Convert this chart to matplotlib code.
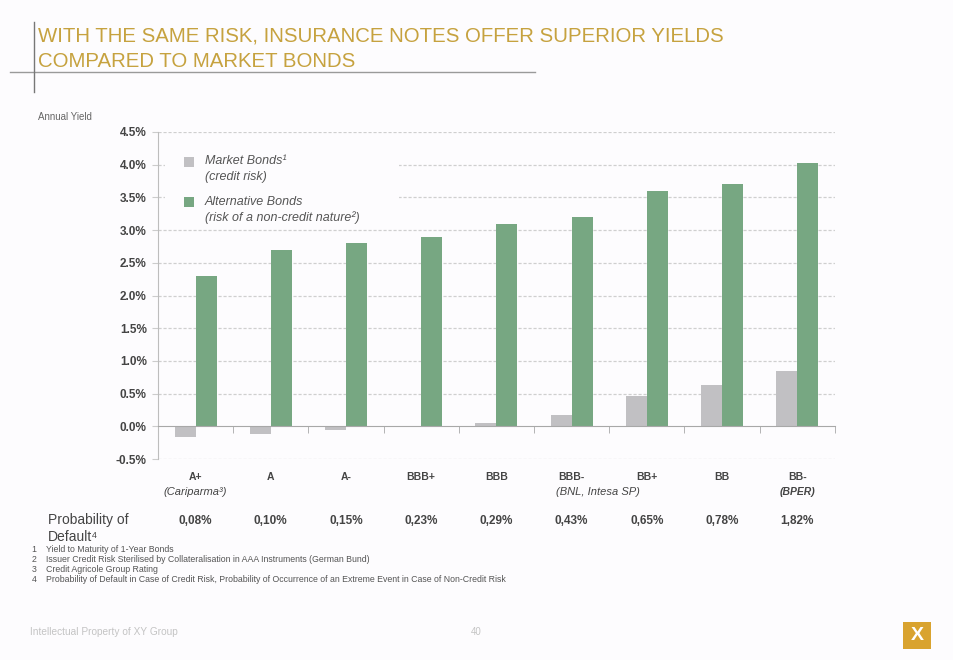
import matplotlib.pyplot as plt
from matplotlib.patches import Rectangle
from matplotlib.ticker import FuncFormatter
import numpy as np

plt.rcParams['font.family'] = ['Liberation Sans', 'DejaVu Sans']

# datos
ratings = ['A+', 'A', 'A-', 'BBB+', 'BBB', 'BBB-', 'BB+', 'BB', 'BB-']
market = [-0.17, -0.11, -0.05, 0.0, 0.05, 0.18, 0.46, 0.63, 0.84]
alternative = [2.3, 2.7, 2.8, 2.9, 3.1, 3.2, 3.6, 3.7, 4.03]
prob_default = ['0,08%', '0,10%', '0,15%', '0,23%', '0,29%', '0,43%', '0,65%', '0,78%', '1,82%']
yticks = [-0.5, 0.0, 0.5, 1.0, 1.5, 2.0, 2.5, 3.0, 3.5, 4.0, 4.5]
series_names = ['Market Bonds\u00b9\n(credit risk)',
                'Alternative Bonds\n(risk of a non-credit nature\u00b2)']
footnotes = ['Yield to Maturity of 1-Year Bonds',
             'Issuer Credit Risk Sterilised by Collateralisation in AAA Instruments (German Bund)',
             'Credit Agricole Group Rating',
             'Probability of Default in Case of Credit Risk, Probability of Occurrence of an Extreme Event in Case of Non-Credit Risk']

gold = '#C6A23F'
green = '#77A782'
grey_bar = '#C1C0C3'
txt = '#444444'
bg = '#FDFCFE'

fig = plt.figure(figsize=(9.54, 6.6), dpi=100, facecolor=bg)
ax = fig.add_axes([0.1656, 0.3045, 0.7094, 0.4955])
ax.set_facecolor(bg)

x = np.arange(len(ratings))
w = 0.28
ax.bar(x - w / 2, market, w, color=grey_bar, zorder=3)
ax.bar(x + w / 2, alternative, w, color=green, zorder=3)

ax.set_xlim(-0.5, len(ratings) - 0.5)
ax.set_ylim(-0.5, 4.5)
ax.set_yticks(yticks)
ax.yaxis.set_major_formatter(FuncFormatter(lambda v, p: '%.1f%%' % v))
ax.tick_params(axis='y', length=4, color='#cccccc', labelsize=8.5, labelcolor=txt, pad=4)
for t in ax.get_yticklabels():
    t.set_fontweight('bold')

# rejilla discontinua
for v in yticks:
    if v != 0:
        ax.axhline(v, color='#cfcfcf', lw=0.9, ls=(0, (2.5, 1.5)), zorder=1)

for s in ['top', 'right']:
    ax.spines[s].set_visible(False)
ax.spines['left'].set_color('#bdbdbd')
ax.spines['bottom'].set_position(('data', 0))
ax.spines['bottom'].set_color('#a8a8a8')
ax.spines['bottom'].set_zorder(4)
ax.set_xticks([])
ax.set_xticks(np.arange(len(ratings)) + 0.5, minor=True)
ax.tick_params(axis='x', which='minor', length=5, color='#a8a8a8', labelbottom=False)

# etiquetas de categorias
tr = ax.get_xaxis_transform()
for i, r in enumerate(ratings):
    ax.text(i, -0.055, r, transform=tr, ha='center', va='center', fontsize=7.5,
            fontweight='bold', color=txt)
    ax.text(i, -0.19, prob_default[i], transform=tr, ha='center', va='center', fontsize=8.5,
            fontweight='bold', color=txt)
ax.text(0, -0.1, '(Cariparma\u00b3)', transform=tr, ha='center', va='center', fontsize=8,
        style='italic', color=txt)
ax.text(5.35, -0.1, '(BNL, Intesa SP)', transform=tr, ha='center', va='center', fontsize=8,
        style='italic', color=txt)
ax.text(8, -0.1, '(BPER)', transform=tr, ha='center', va='center', fontsize=7.5,
        style='italic', fontweight='bold', color=txt)

# leyenda hecha a mano (cuadro arriba alineado con la primera linea)
ftr = fig.transFigure
ax.add_patch(Rectangle((0.173, 0.664), 0.245, 0.118, transform=ftr, facecolor=bg,
                       edgecolor='none', zorder=2))
for k, (name, col) in enumerate(zip(series_names, [grey_bar, green])):
    ytop = 0.755 - k * 0.061
    ax.add_patch(Rectangle((0.193, ytop - 0.0075), 0.0105, 0.0152, transform=ftr,
                           facecolor=col, edgecolor='none', zorder=3, clip_on=False))
    ax.text(0.215, ytop + 0.0095, name, transform=ftr, ha='left', va='top', fontsize=9,
            style='italic', color='#555555', linespacing=1.35, zorder=3)

# titulo y lineas
fig.text(0.040, 0.960, 'WITH THE SAME RISK, INSURANCE NOTES OFFER SUPERIOR YIELDS\nCOMPARED TO MARKET BONDS',
         ha='left', va='top', fontsize=14.7, color=gold, linespacing=1.42)
fig.add_artist(plt.Line2D([0.010, 0.561], [0.891, 0.891], color='#9a9a9a', lw=1))
fig.add_artist(plt.Line2D([0.0356, 0.0356], [0.967, 0.861], color='#777777', lw=1))

fig.text(0.040, 0.823, 'Annual Yield', ha='left', va='center', fontsize=7, color='#666666')

fig.text(0.050, 0.199, 'Probability of\nDefault\u2074', ha='left', va='center', fontsize=10,
         color=txt, linespacing=1.3)

for i, f in enumerate(footnotes):
    yy = 0.167 - i * 0.0152
    fig.text(0.033, yy, str(i + 1), ha='left', va='center', fontsize=6.3, color='#555555')
    fig.text(0.048, yy, f, ha='left', va='center', fontsize=6.3, color='#555555')

fig.text(0.031, 0.042, 'Intellectual Property of XY Group', ha='left', va='center', fontsize=7.3,
         color='#c4c4c4')
fig.text(0.493, 0.042, '40', ha='left', va='center', fontsize=7, color='#c4c4c4')

# logo
fig.add_artist(Rectangle((0.947, 0.017), 0.029, 0.040, transform=fig.transFigure,
                         facecolor='#D9A32F', edgecolor='none'))
fig.text(0.9615, 0.037, 'X', ha='center', va='center', fontsize=14, fontweight='bold', color='white')

fig.savefig('out.png', dpi=100, facecolor=bg)
